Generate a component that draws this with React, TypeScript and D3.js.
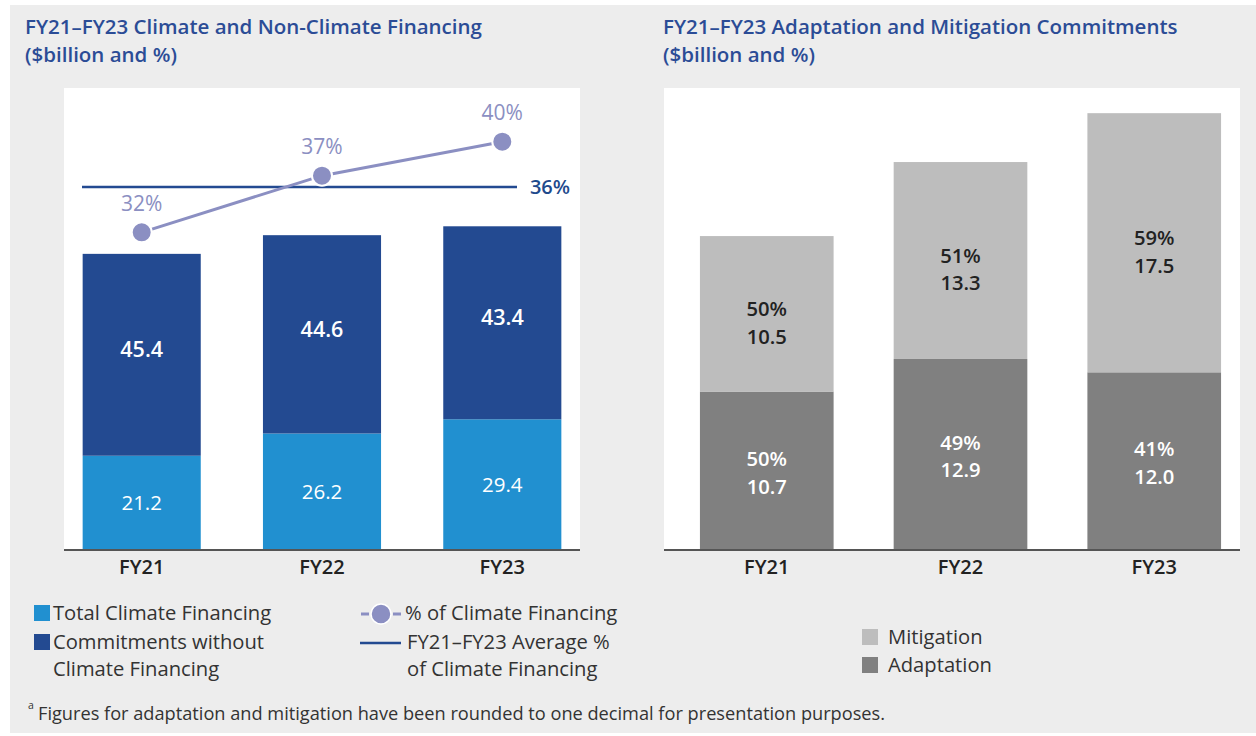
import React from 'react';
import * as d3 from 'd3';

const years = ['FY21', 'FY22', 'FY23'];
const climateFinancing = [21.2, 26.2, 29.4];
const nonClimateFinancing = [45.4, 44.6, 43.4];
const climatePct = [32, 37, 40];
const averagePct = 36;
const adaptation = [10.7, 12.9, 12.0];
const mitigation = [10.5, 13.3, 17.5];
const adaptationPct = [50, 49, 41];
const mitigationPct = [50, 51, 59];

const FONT = '"Open Sans", "Noto Sans", sans-serif';
const TITLE_BLUE = '#2b4c96';
const LIGHT_BLUE = '#2190d0';
const DARK_BLUE = '#234a91';
const LINE_PURPLE = '#8b8fc2';
const MITIGATION = '#bdbdbd';
const ADAPTATION = '#808080';

const App: React.FC = () => {
  const width = 1256;
  const height = 736;
  const baseY = 550;
  const topY = 88;

  // left chart scales
  const xL = d3.scaleBand().domain(years).range([52, 592]).paddingInner(0.345).paddingOuter(0.17);
  const yL = d3.scaleLinear().domain([0, 103.9]).range([baseY, topY]);
  const yPct = d3.scaleLinear().domain([30, 42]).range([255, 119]);

  // right chart scales
  const xR = d3.scaleBand().domain(years).range([667, 1254]).paddingInner(0.31).paddingOuter(0.17);
  const yR = d3.scaleLinear().domain([0, 31.2]).range([baseY, topY]);

  const cxL = (d: string) => (xL(d) || 0) + xL.bandwidth() / 2;
  const cxR = (d: string) => (xR(d) || 0) + xR.bandwidth() / 2;

  const pctLine = d3.line<number>()
    .x((_, i) => cxL(years[i]))
    .y(d => yPct(d));

  // two-line label spacing (kept just above the font's line box)
  const gap = 27.5;

  return (
    <svg width={width} height={height} style={{ position: 'absolute', left: 0, top: 0, fontFamily: FONT }}>
      <rect x={0} y={0} width={width} height={height} fill="#ffffff" />
      <rect x={10} y={5} width={width - 10} height={728} fill="#ededed" />

      {/* Titles */}
      <g fill={TITLE_BLUE} fontWeight={600} fontSize={20.5}>
        <text x={25} y={34}>FY21–FY23 Climate and Non-Climate Financing</text>
        <text x={25} y={62}>($billion and %)</text>
        <text x={663} y={34}>FY21–FY23 Adaptation and Mitigation Commitments</text>
        <text x={663} y={62}>($billion and %)</text>
      </g>

      {/* Left panel */}
      <rect x={64} y={topY} width={516} height={baseY - topY} fill="#ffffff" />
      {years.map((yr, i) => {
        const x = xL(yr) || 0;
        const w = xL.bandwidth();
        const c = climateFinancing[i];
        const n = nonClimateFinancing[i];
        return (
          <g key={yr}>
            <rect x={x} y={yL(c)} width={w} height={baseY - yL(c)} fill={LIGHT_BLUE} />
            <rect x={x} y={yL(c + n)} width={w} height={yL(c) - yL(c + n)} fill={DARK_BLUE} />
            <text x={cxL(yr)} y={(yL(c) + baseY) / 2} dy="0.35em" textAnchor="middle" fill="#fff" fontSize={20.5}>
              {c.toFixed(1)}
            </text>
            <text x={cxL(yr)} y={(yL(c + n) + yL(c)) / 2 - 5} dy="0.35em" textAnchor="middle" fill="#fff" fontSize={21.5} fontWeight={600}>
              {n.toFixed(1)}
            </text>
            <text x={cxL(yr)} y={567} dy="0.35em" textAnchor="middle" fill="#222" fontSize={20} fontWeight={600}>
              {yr}
            </text>
          </g>
        );
      })}
      <line x1={64} x2={580} y1={baseY} y2={baseY} stroke="#555" strokeWidth={2} />

      {/* average line */}
      <line x1={82} x2={517} y1={yPct(averagePct)} y2={yPct(averagePct)} stroke={DARK_BLUE} strokeWidth={2.5} />
      <text x={550} y={yPct(averagePct)} dy="0.35em" textAnchor="middle" fill="#1f4a8c" fontSize={20} fontWeight={600}>
        {averagePct}%
      </text>

      {/* % of climate financing line */}
      <path d={pctLine(climatePct) || ''} fill="none" stroke={LINE_PURPLE} strokeWidth={3} />
      {climatePct.map((p, i) => (
        <g key={i}>
          <circle cx={cxL(years[i])} cy={yPct(p)} r={10} fill={LINE_PURPLE} stroke="#fff" strokeWidth={2} />
          <text x={cxL(years[i])} y={yPct(p) - 29} dy="0.35em" textAnchor="middle" fill={LINE_PURPLE} fontSize={21}>
            {p}%
          </text>
        </g>
      ))}

      {/* Right panel */}
      <rect x={664} y={topY} width={576} height={baseY - topY} fill="#ffffff" />
      {years.map((yr, i) => {
        const x = xR(yr) || 0;
        const w = xR.bandwidth();
        const a = adaptation[i];
        const m = mitigation[i];
        const aMid = (yR(a) + baseY) / 2 + 2;
        const mMid = (yR(a + m) + yR(a)) / 2 + 9;
        return (
          <g key={yr}>
            <rect x={x} y={yR(a)} width={w} height={baseY - yR(a)} fill={ADAPTATION} />
            <rect x={x} y={yR(a + m)} width={w} height={yR(a) - yR(a + m)} fill={MITIGATION} />
            <g textAnchor="middle" fontSize={20.2} fontWeight={600}>
              <text x={cxR(yr)} y={mMid - gap / 2} dy="0.35em" fill="#222">{mitigationPct[i]}%</text>
              <text x={cxR(yr)} y={mMid + gap / 2} dy="0.35em" fill="#222">{m.toFixed(1)}</text>
              <text x={cxR(yr)} y={aMid - gap / 2} dy="0.35em" fill="#fff">{adaptationPct[i]}%</text>
              <text x={cxR(yr)} y={aMid + gap / 2} dy="0.35em" fill="#fff">{a.toFixed(1)}</text>
            </g>
            <text x={cxR(yr)} y={567} dy="0.35em" textAnchor="middle" fill="#222" fontSize={20} fontWeight={600}>
              {yr}
            </text>
          </g>
        );
      })}
      <line x1={664} x2={1240} y1={baseY} y2={baseY} stroke="#555" strokeWidth={2} />

      {/* Left legend */}
      <g fontSize={20.2} fill="#333">
        <rect x={34} y={605} width={16} height={16} fill={LIGHT_BLUE} />
        <text x={53} y={613} dy="0.35em">Total Climate Financing</text>
        <rect x={34} y={634} width={16} height={16} fill={DARK_BLUE} />
        <text x={53} y={641.5} dy="0.35em">Commitments without</text>
        <text x={53} y={641.5 + gap} dy="0.35em">Climate Financing</text>

        <line x1={361} x2={369} y1={614} y2={614} stroke={LINE_PURPLE} strokeWidth={3} />
        <line x1={393} x2={401} y1={614} y2={614} stroke={LINE_PURPLE} strokeWidth={3} />
        <circle cx={381} cy={614} r={10} fill={LINE_PURPLE} stroke="#fff" strokeWidth={1.5} />
        <text x={405} y={613} dy="0.35em">% of Climate Financing</text>
        <line x1={360} x2={401} y1={643} y2={643} stroke={DARK_BLUE} strokeWidth={2.5} />
        <text x={407} y={641.5} dy="0.35em">FY21–FY23 Average %</text>
        <text x={407} y={641.5 + gap} dy="0.35em">of Climate Financing</text>
      </g>

      {/* Right legend */}
      <g fontSize={20.2} fill="#333">
        <rect x={862} y={629} width={16} height={16} fill={MITIGATION} />
        <text x={888} y={637} dy="0.35em">Mitigation</text>
        <rect x={862} y={657} width={16} height={16} fill={ADAPTATION} />
        <text x={888} y={665} dy="0.35em">Adaptation</text>
      </g>

      {/* Footnote */}
      <text x={28} y={709} fontSize={10.5} fill="#333">a</text>
      <text x={38} y={714} dy="0.35em" fontSize={18.2} fill="#333">
        Figures for adaptation and mitigation have been rounded to one decimal for presentation purposes.
      </text>
    </svg>
  );
};

export default App;
